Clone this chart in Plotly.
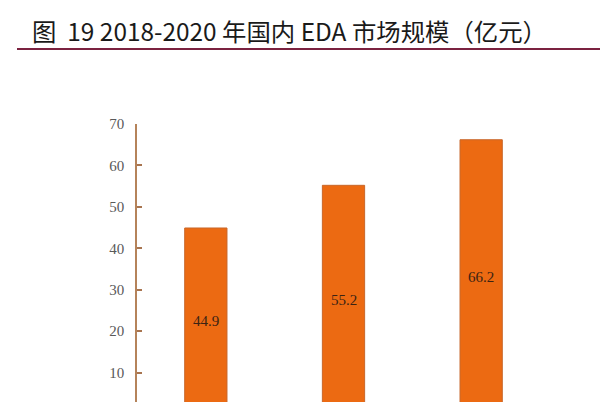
import plotly.graph_objects as go

years = ["2018", "2019", "2020"]
market_size = [44.9, 55.2, 66.2]
y_ticks = [10, 20, 30, 40, 50, 60, 70]
title_text = "图  19 2018-2020 年国内 EDA 市场规模（亿元）"

fig = go.Figure()
fig.add_trace(go.Bar(
    x=years,
    y=market_size,
    marker=dict(color="#EC6A12", line=dict(color="#C8672A", width=1)),
    hoverinfo="skip",
))

for i, v in enumerate(market_size):
    fig.add_annotation(
        x=i, y=v / 2, xref="x", yref="y",
        text=f"{v:.1f}", showarrow=False,
        font=dict(family="Liberation Serif", size=15, color="#3B2314"),
        xanchor="center", yanchor="middle",
    )

W, H = 600, 402
L, R, T, B = 137, 50, 124, 0
pw, ph = W - L - R, H - T - B

fig.add_shape(
    type="line", xref="paper", yref="paper",
    x0=(17 - L) / pw, x1=(W - L) / pw,
    y0=(H - 49) / ph, y1=(H - 49) / ph,
    line=dict(color="#7B2240", width=2),
)

fig.update_layout(
    width=W, height=H,
    margin=dict(l=L, r=R, t=T, b=B, pad=0),
    paper_bgcolor="white", plot_bgcolor="white",
    showlegend=False,
    bargap=0.693,
    title=dict(
        text=title_text, xref="container", yref="container",
        x=32 / W, xanchor="left", y=1 - 32 / H, yanchor="middle",
        font=dict(family="Noto Sans CJK SC", size=24.4, color="#1A1A1A"),
    ),
    xaxis=dict(
        type="category", range=[-0.5, 2.5], showticklabels=False, showline=False,
        showgrid=False, zeroline=False, ticks="",
    ),
    yaxis=dict(
        range=[2.9, 70], tickvals=y_ticks,
        showgrid=False, zeroline=False,
        showline=True, linecolor="#B5835A", linewidth=1.5,
        ticks="inside", ticklen=5, tickwidth=1.5, tickcolor="#A8744F",
        tickfont=dict(family="Liberation Serif", size=15, color="#595959"),
        ticklabelstandoff=8,
    ),
)

fig.write_html(
    "out.html",
    config={"displayModeBar": False},
    post_script="document.body.style.margin='0';document.body.style.overflow='hidden';",
)
